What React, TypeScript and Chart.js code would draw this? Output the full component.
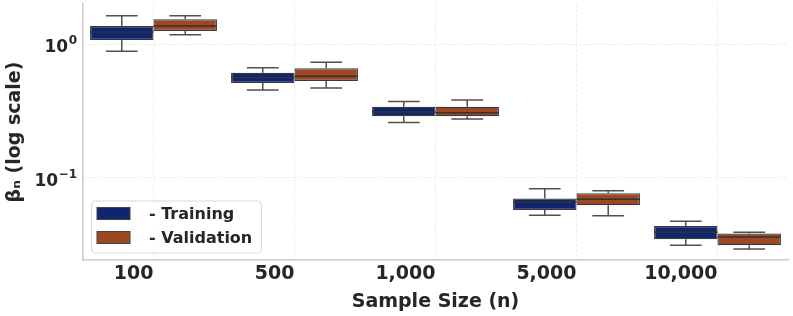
import React, { useEffect, useRef } from 'react';
import { Chart, registerables } from 'chart.js';

Chart.register(...registerables);

const categories = ['100', '500', '1,000', '5,000', '10,000'];
const seriesNames = ['- Training', '- Validation'];
const seriesColors = ['#10256f', '#9c4822'];

const trainingQ1 = [1.071, 0.512, 0.289, 0.0577, 0.0349];
const trainingQ3 = [1.362, 0.611, 0.34, 0.0701, 0.0438];
const trainingMedian = [1.229, 0.56, 0.311, 0.0662, 0.0393];
const trainingWhiskerLow = [0.882, 0.454, 0.259, 0.0527, 0.0315];
const trainingWhiskerHigh = [1.626, 0.665, 0.373, 0.0832, 0.0475];

const validationQ1 = [1.25, 0.53, 0.289, 0.0626, 0.0315];
const validationQ3 = [1.528, 0.659, 0.34, 0.0769, 0.0384];
const validationMedian = [1.362, 0.574, 0.307, 0.0693, 0.0363];
const validationWhiskerLow = [1.173, 0.469, 0.275, 0.0523, 0.0295];
const validationWhiskerHigh = [1.626, 0.73, 0.382, 0.0804, 0.0393];

const yTickValues = [0.1, 1];
const yTickBase = ['10', '10'];
const yTickExponents = ['−1', '0'];
const yMin = 0.0244;
const yMax = 1.99;

const xTitle = 'Sample Size (n)';
const yTitle = 'βₙ (log scale)';

const TEXT = '#262626';
const FONT = "'DejaVu Sans', sans-serif";

const stats = [
  { q1: trainingQ1, q3: trainingQ3, med: trainingMedian, lo: trainingWhiskerLow, hi: trainingWhiskerHigh },
  { q1: validationQ1, q3: validationQ3, med: validationMedian, lo: validationWhiskerLow, hi: validationWhiskerHigh },
];

const whiskerPlugin = {
  id: 'whiskers',
  afterDatasetsDraw(chart: any) {
    const ctx = chart.ctx;
    const y = chart.scales.y;
    ctx.save();
    chart.data.datasets.forEach((_: any, di: number) => {
      const meta = chart.getDatasetMeta(di);
      const s = stats[di];
      meta.data.forEach((bar: any, j: number) => {
        const { x, width } = bar.getProps(['x', 'width'], true);
        const pQ1 = y.getPixelForValue(s.q1[j]);
        const pQ3 = y.getPixelForValue(s.q3[j]);
        const pMed = y.getPixelForValue(s.med[j]);
        const pLo = y.getPixelForValue(s.lo[j]);
        const pHi = y.getPixelForValue(s.hi[j]);
        const cap = width / 4;
        ctx.strokeStyle = '#505050';
        ctx.lineWidth = 1.5;
        ctx.beginPath();
        ctx.moveTo(x, pQ3);
        ctx.lineTo(x, pHi);
        ctx.moveTo(x - cap, pHi);
        ctx.lineTo(x + cap, pHi);
        ctx.moveTo(x, pQ1);
        ctx.lineTo(x, pLo);
        ctx.moveTo(x - cap, pLo);
        ctx.lineTo(x + cap, pLo);
        ctx.stroke();
        ctx.strokeStyle = '#333333';
        ctx.beginPath();
        ctx.moveTo(x - width / 2, pMed);
        ctx.lineTo(x + width / 2, pMed);
        ctx.stroke();
      });
    });
    ctx.restore();
  },
};

const yTickPlugin = {
  id: 'powerTicks',
  afterDraw(chart: any) {
    const ctx = chart.ctx;
    const y = chart.scales.y;
    const right = chart.chartArea.left - 6;
    ctx.save();
    ctx.fillStyle = TEXT;
    ctx.textAlign = 'left';
    ctx.textBaseline = 'alphabetic';
    yTickValues.forEach((v, i) => {
      const py = y.getPixelForValue(v);
      ctx.font = `bold 12px ${FONT}`;
      const wE = ctx.measureText(yTickExponents[i]).width;
      ctx.font = `bold 17px ${FONT}`;
      const wB = ctx.measureText(yTickBase[i]).width;
      const xE = right - wE;
      const xB = xE - 0.5 - wB;
      ctx.fillText(yTickBase[i], xB, py + 8.3);
      ctx.font = `bold 12px ${FONT}`;
      ctx.fillText(yTickExponents[i], xE, py - 0.3);
    });
    ctx.restore();
  },
};

const legendPlugin = {
  id: 'boxLegend',
  afterDraw(chart: any) {
    const ctx = chart.ctx;
    const area = chart.chartArea;
    const left = area.left + 8;
    const boxH = 52;
    const boxW = 170;
    const top = area.bottom - 7.5 - boxH;
    ctx.save();
    ctx.beginPath();
    ctx.roundRect(left + 0.5, top + 0.5, boxW, boxH, 4);
    ctx.fillStyle = 'rgba(255,255,255,0.85)';
    ctx.fill();
    ctx.strokeStyle = '#d9d9d9';
    ctx.lineWidth = 1;
    ctx.stroke();
    ctx.font = `bold 16px ${FONT}`;
    ctx.textBaseline = 'middle';
    ctx.textAlign = 'left';
    seriesNames.forEach((name, i) => {
      const rowY = top + 13 + i * 24;
      ctx.fillStyle = seriesColors[i];
      ctx.fillRect(left + 6, rowY - 6, 33, 12);
      ctx.strokeStyle = '#444444';
      ctx.lineWidth = 1;
      ctx.strokeRect(left + 6, rowY - 6, 33, 12);
      ctx.fillStyle = TEXT;
      ctx.fillText(name, left + 58, rowY + 1);
    });
    ctx.restore();
  },
};

export default function App() {
  const ref = useRef<HTMLCanvasElement | null>(null);

  useEffect(() => {
    if (!ref.current) return;
    Chart.defaults.font.family = FONT;
    Chart.defaults.color = TEXT;
    const chart = new Chart(ref.current, {
      type: 'bar',
      data: {
        labels: categories,
        datasets: stats.map((s, i) => ({
          label: seriesNames[i],
          data: categories.map((_, j) => [s.q1[j], s.q3[j]]),
          backgroundColor: seriesColors[i],
          borderColor: '#3a3a3a',
          borderWidth: 1.25,
          borderSkipped: false,
          categoryPercentage: 0.9,
          barPercentage: 1.0,
        })),
      },
      options: {
        animation: false,
        responsive: false,
        devicePixelRatio: 1,
        layout: { padding: { top: 4, right: 5, left: 0, bottom: 0 } },
        plugins: { legend: { display: false }, tooltip: { enabled: false } },
        scales: {
          x: {
            type: 'category',
            offset: true,
            grid: { offset: false, color: '#ececec', drawTicks: false, lineWidth: 1 },
            border: { color: '#cccccc', width: 1.5, dash: [3, 2] },
            ticks: {
              align: 'end',
              maxRotation: 0,
              autoSkip: false,
              padding: 3,
              color: TEXT,
              font: { size: 19, weight: 'bold', family: FONT },
            },
            title: {
              display: true,
              text: xTitle,
              color: TEXT,
              font: { size: 19, weight: 'bold', family: FONT },
              padding: { top: 0, bottom: 3 },
            },
            afterFit: (s: any) => {
              s.height = 56;
              s.paddingLeft = 0;
              s.paddingRight = 0;
            },
          },
          y: {
            type: 'logarithmic',
            min: yMin,
            max: yMax,
            afterBuildTicks: (s: any) => {
              s.ticks = yTickValues.map((v) => ({ value: v }));
            },
            grid: { color: '#ececec', drawTicks: false, lineWidth: 1 },
            border: { color: '#cccccc', width: 1.5, dash: [3, 2] },
            ticks: { display: false },
            title: {
              display: true,
              text: yTitle,
              color: TEXT,
              font: { size: 19, weight: 'bold', family: FONT },
              padding: { top: 4, bottom: 0 },
            },
            afterFit: (s: any) => {
              s.width = 83;
              s.paddingTop = 0;
              s.paddingBottom = 0;
            },
          },
        },
      } as any,
      plugins: [whiskerPlugin, yTickPlugin, legendPlugin],
    });
    return () => chart.destroy();
  }, []);

  return (
    <div style={{ position: 'fixed', left: 0, top: 0, width: 793, height: 316, background: '#fff' }}>
      <canvas ref={ref} width={793} height={316} />
    </div>
  );
}
